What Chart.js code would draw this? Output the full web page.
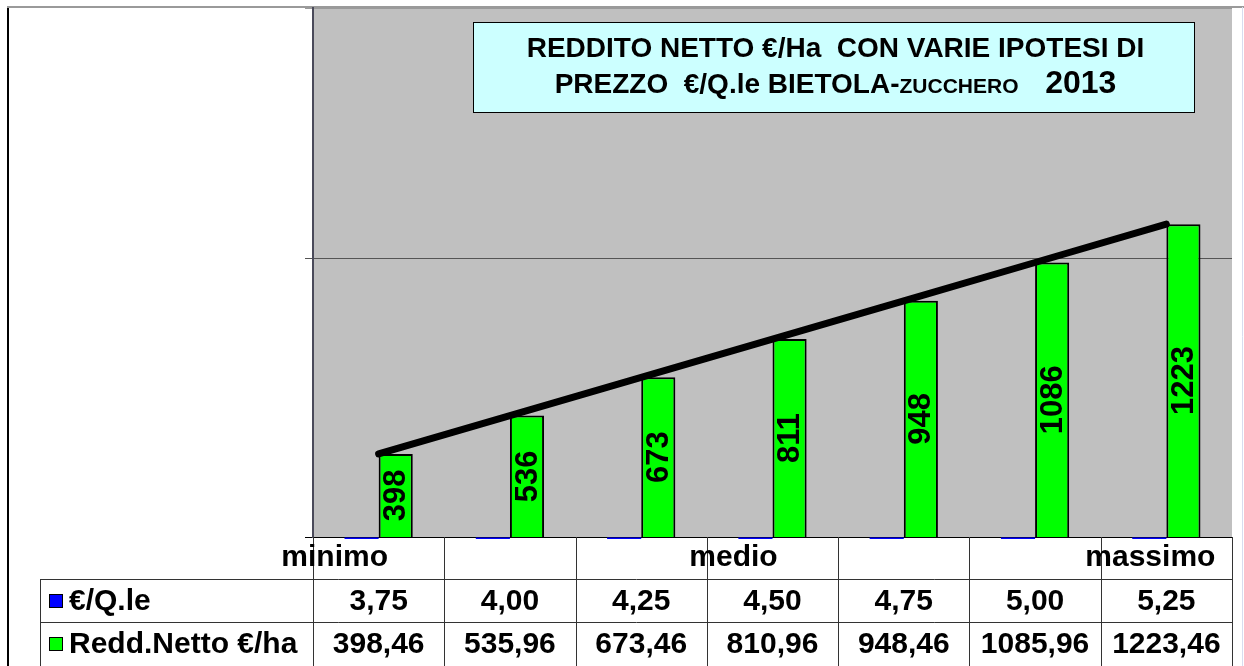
<!DOCTYPE html>
<html>
<head>
<meta charset="utf-8">
<script src="https://cdn.jsdelivr.net/npm/chart.js@4/dist/chart.umd.min.js"></script>
<style>
  html, body { margin: 0; padding: 0; background: #fff; }
  #wrap { width: 1244px; height: 666px; position: relative; }
</style>
</head>
<body>
<div id="wrap"><canvas id="redditoChart" width="1244" height="666"></canvas></div>
<script>
// Data
const categories = ['minimo', '', '', 'medio', '', '', 'massimo'];
const prezzo = [3.75, 4.00, 4.25, 4.50, 4.75, 5.00, 5.25];
const reddito = [398.46, 535.96, 673.46, 810.96, 948.46, 1085.96, 1223.46];
const yTicks = [100, 1100, 2000];
const seriesNames = ['€/Q.le', 'Redd.Netto €/ha'];
const seriesColors = ['#0000ff', '#00ff00'];

const FONT = "'Liberation Sans', Arial, sans-serif";

function fmt(v) {
    return v.toFixed(2).replace('.', ',');
}

// Background, plot fill and outer frame
const backdrop = {
    id: 'backdrop',
    beforeDraw(chart) {
        const { ctx, chartArea: a } = chart;
        ctx.save();
        ctx.fillStyle = '#fff';
        ctx.fillRect(0, 0, chart.width, chart.height);
        ctx.fillStyle = '#c0c0c0';
        ctx.fillRect(a.left, a.top, a.right - a.left, a.bottom - a.top);
        // outer frame
        ctx.strokeStyle = '#000';
        ctx.lineWidth = 2;
        ctx.beginPath();
        ctx.moveTo(8, 7);
        ctx.lineTo(8, chart.height);
        ctx.stroke();
        ctx.strokeStyle = '#9a9a9a';
        ctx.beginPath();
        ctx.moveTo(7, 7);
        ctx.lineTo(chart.width, 7);
        ctx.stroke();
        ctx.strokeStyle = '#d8dcef';
        ctx.lineWidth = 1;
        ctx.beginPath();
        ctx.moveTo(1242.5, 7);
        ctx.lineTo(1242.5, chart.height);
        ctx.stroke();
        ctx.restore();
    }
};

// Rotated value labels inside the green bars
const barLabels = {
    id: 'barLabels',
    afterDatasetDraw(chart, args) {
        if (args.index !== 1) return;
        const { ctx } = chart;
        const bottom = chart.chartArea.bottom;
        ctx.save();
        ctx.fillStyle = '#000';
        ctx.font = 'bold 31px ' + FONT;
        ctx.textAlign = 'center';
        ctx.textBaseline = 'middle';
        args.meta.data.forEach((bar, i) => {
            const cy = (bar.y + Math.min(bar.base, bottom)) / 2;
            ctx.save();
            ctx.translate(bar.x + 1, cy);
            ctx.rotate(-Math.PI / 2);
            ctx.fillText(Math.round(reddito[i]), 0, 0);
            ctx.restore();
        });
        ctx.restore();
    }
};

// Title box and data table
const titleAndTable = {
    id: 'titleAndTable',
    afterDraw(chart) {
        const { ctx, chartArea: a } = chart;
        const x = chart.scales.x;
        ctx.save();

        // title box
        const bx = 473, by = 22, bw = 721, bh = 90;
        ctx.fillStyle = '#ccffff';
        ctx.fillRect(bx, by, bw, bh);
        ctx.strokeStyle = '#000';
        ctx.lineWidth = 1;
        ctx.strokeRect(bx + 0.5, by + 0.5, bw, bh);

        const lines = [
            { y: 57, parts: [['REDDITO NETTO €/Ha  CON VARIE IPOTESI DI', 28]] },
            { y: 93, parts: [['PREZZO  €/Q.le BIETOLA-', 28], ['ZUCCHERO', 21], ['   2013', 32]] }
        ];
        ctx.fillStyle = '#000';
        ctx.textBaseline = 'alphabetic';
        ctx.textAlign = 'left';
        const cx = bx + bw / 2 + 2;
        lines.forEach(line => {
            let total = 0;
            line.parts.forEach(p => {
                ctx.font = 'bold ' + p[1] + 'px ' + FONT;
                total += ctx.measureText(p[0]).width;
            });
            let px = cx - total / 2;
            line.parts.forEach(p => {
                ctx.font = 'bold ' + p[1] + 'px ' + FONT;
                ctx.fillText(p[0], px, line.y);
                px += ctx.measureText(p[0]).width;
            });
        });

        // table grid
        const step = x.getPixelForValue(1) - x.getPixelForValue(0);
        const edges = [];
        for (let i = 0; i <= categories.length; i++) {
            edges.push(x.getPixelForValue(0) - step / 2 + i * step);
        }
        const top = a.bottom, row1 = 579, row2 = 622, bottom = chart.height;
        const tableLeft = 40;
        ctx.strokeStyle = '#333';
        ctx.lineWidth = 1;
        ctx.beginPath();
        edges.forEach(e => {
            const ex = Math.round(e) + 0.5;
            ctx.moveTo(ex, top);
            ctx.lineTo(ex, bottom);
        });
        ctx.moveTo(tableLeft + 0.5, row1);
        ctx.lineTo(tableLeft + 0.5, bottom);
        [row1, row2].forEach(ry => {
            ctx.moveTo(tableLeft, ry + 0.5);
            ctx.lineTo(Math.round(edges[edges.length - 1]) + 1, ry + 0.5);
        });
        ctx.stroke();

        // header labels
        const headerShift = [-44, 0, 0, -39, 0, 0, -16];
        ctx.font = 'bold 30px ' + FONT;
        ctx.textAlign = 'center';
        ctx.textBaseline = 'middle';
        categories.forEach((c, i) => {
            if (c) ctx.fillText(c, x.getPixelForValue(i) + headerShift[i], 558);
        });

        // value rows
        const rows = [
            { y: (row1 + row2) / 2 + 1, values: prezzo },
            { y: (row2 + bottom) / 2 + 1, values: reddito }
        ];
        rows.forEach((r, k) => {
            ctx.font = 'bold 30px ' + FONT;
            ctx.textAlign = 'center';
            r.values.forEach((v, i) => {
                ctx.fillText(fmt(v), x.getPixelForValue(i), r.y);
            });
            // legend key
            ctx.fillStyle = seriesColors[k];
            ctx.fillRect(49, Math.round(r.y) - 8, 14, 14);
            ctx.strokeStyle = '#000';
            ctx.strokeRect(49.5, Math.round(r.y) - 7.5, 13, 13);
            ctx.fillStyle = '#000';
            ctx.textAlign = 'left';
            ctx.fillText(seriesNames[k], 69, r.y);
        });

        ctx.restore();
    }
};

const ctx = document.getElementById('redditoChart').getContext('2d');
const chart = new Chart(ctx, {
    type: 'bar',
    data: {
        labels: categories,
        datasets: [
            {
                label: seriesNames[0],
                data: prezzo,
                base: yTicks[0],
                backgroundColor: seriesColors[0],
                borderWidth: 0,
                categoryPercentage: 0.52,
                barPercentage: 1,
                clip: { left: 0, top: 0, right: 0, bottom: 2 },
                order: 2
            },
            {
                label: seriesNames[1],
                data: reddito,
                backgroundColor: seriesColors[1],
                borderColor: '#000',
                borderWidth: 2,
                categoryPercentage: 0.52,
                barPercentage: 1,
                order: 2
            },
            {
                type: 'line',
                label: 'trend',
                data: reddito,
                borderColor: '#000',
                borderWidth: 7,
                borderCapStyle: 'round',
                pointRadius: 0,
                tension: 0,
                fill: false,
                order: 1
            }
        ]
    },
    options: {
        responsive: false,
        animation: false,
        layout: {
            padding: { left: 305, right: 12, top: 8, bottom: 129 }
        },
        plugins: {
            legend: { display: false },
            tooltip: { enabled: false }
        },
        scales: {
            x: {
                display: false
            },
            y: {
                min: 100,
                max: 2000,
                afterBuildTicks: axis => {
                    axis.ticks = yTicks.map(v => ({ value: v }));
                },
                ticks: { display: false },
                grid: {
                    color: c => (c.tick && c.tick.value === yTicks[0]) ? '#000' : (c.tick && c.tick.value === yTicks[2] ? '#9a9a9a' : '#555'),
                    lineWidth: 1,
                    drawTicks: true,
                    tickLength: 8
                },
                border: { color: '#4a4a5a', width: 2 }
            }
        }
    },
    plugins: [backdrop, barLabels, titleAndTable]
});
</script>
</body>
</html>
